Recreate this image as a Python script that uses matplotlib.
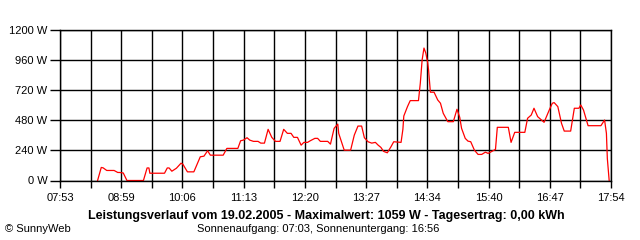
import matplotlib
matplotlib.use('Agg')
import matplotlib.pyplot as plt
import numpy as np

# minutes since midnight, watts
minutes = [514, 518, 520, 524, 532, 536, 538, 542, 546, 564, 568, 570, 571, 587, 590, 592,
           595, 598, 600, 605, 607, 612, 619, 626, 630, 634, 637, 651, 655, 667, 670, 673,
           677, 680, 684, 689, 692, 696, 700, 704, 708, 713, 717, 721, 725, 728, 732, 736,
           739, 743, 746, 751, 754, 757, 765, 768, 772, 776, 777, 783, 790, 794, 798, 802,
           805, 809, 813, 817, 820, 823, 826, 830, 834, 837, 845, 847, 848, 852, 855, 864,
           866, 868, 870, 872, 874, 875, 877, 881, 885, 888, 891, 896, 902, 906, 909, 911,
           915, 918, 921, 925, 929, 933, 937, 940, 948, 950, 962, 965, 969, 980, 983, 987,
           990, 994, 1001, 1007, 1010, 1012, 1016, 1020, 1023, 1030, 1034, 1039, 1041, 1044,
           1049, 1063, 1067, 1069, 1070, 1072]
watts = [0, 104, 101, 80, 80, 64, 64, 60, 0, 0, 100, 100, 58, 58, 100, 100,
         74, 88, 98, 138, 130, 69, 69, 189, 194, 237, 202, 202, 256, 256, 317, 322,
         341, 322, 312, 312, 298, 298, 408, 344, 312, 312, 408, 376, 376, 344, 344, 282,
         304, 304, 317, 336, 336, 312, 312, 290, 416, 450, 376, 242, 242, 362, 434, 434,
         341, 309, 298, 304, 282, 264, 232, 221, 269, 309, 304, 408, 514, 589, 637, 637,
         776, 962, 1056, 1016, 941, 882, 704, 704, 642, 616, 536, 469, 469, 568, 504, 416,
         336, 314, 309, 242, 208, 208, 226, 216, 248, 424, 424, 304, 384, 384, 496, 522,
         576, 509, 464, 568, 616, 621, 589, 456, 394, 394, 576, 576, 602, 562,
         437, 437, 482, 376, 176, 0]

t_start, t_end = 473, 1074  # 07:53 .. 17:54
xlabels = ['07:53', '08:59', '10:06', '11:13', '12:20', '13:27', '14:34', '15:40', '16:47', '17:54']
yticks = [0, 240, 480, 720, 960, 1200]

plt.rcParams['font.family'] = ['Liberation Sans Narrow', 'Liberation Sans', 'DejaVu Sans']

fig = plt.figure(figsize=(6.4, 2.4), dpi=100)
ax = fig.add_axes([60/640, 1 - 180.5/240, 551/640, 150.5/240])

ax.plot(minutes, watts, color='#ff0000', lw=0.9)

xt = np.linspace(t_start, t_end, 19)
ax.set_xticks(xt)
ax.set_xticklabels([xlabels[i//2] if i % 2 == 0 else '' for i in range(19)])
ax.set_yticks(yticks)
ax.set_yticklabels([f'{v} W' for v in yticks])
ax.set_xlim(t_start, t_end)
ax.set_ylim(0, 1200)
ax.grid(True, color='black', lw=1)
ax.tick_params(axis='x', length=5, width=1, pad=4, labelsize=8)
ax.tick_params(axis='y', length=7, width=1, pad=2, labelsize=8)
for s in ax.spines.values():
    s.set_linewidth(1)
ax.set_axisbelow(True)

fig.text(326/640, 1 - 216/240, 'Leistungsverlauf vom 19.02.2005 - Maximalwert: 1059 W - Tagesertrag: 0,00 kWh',
         ha='center', va='center', fontsize=9, fontweight='bold')
fig.text(318/640, 1 - 229/240, 'Sonnenaufgang: 07:03, Sonnenuntergang: 16:56',
         ha='center', va='center', fontsize=8)
fig.text(5/640, 1 - 229/240, '© SunnyWeb', ha='left', va='center', fontsize=8)

fig.savefig('out.png', dpi=100, facecolor='white')
